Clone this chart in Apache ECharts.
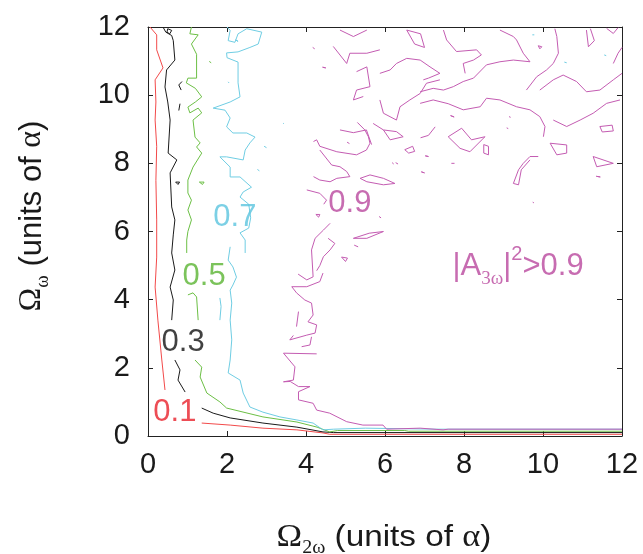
<!DOCTYPE html>
<html><head><meta charset="utf-8">
<script src="https://cdn.jsdelivr.net/npm/echarts@6/dist/echarts.min.js"></script>
<style>html,body{margin:0;padding:0;background:#fff}#c{width:643px;height:554px}</style>
</head><body><div id="c"></div>
<script>
// Axis range and ticks
var xTicks = [0, 2, 4, 6, 8, 10, 12];
var yTicks = [0, 2, 4, 6, 8, 10, 12];

// Contour level 0.1 (red) polylines [x, y]
var contour01 = [
  [[0.05,12],[0.22,11.77],[0.22,11.33],[0.38,10.8],[0.18,10.45],[0.2,9.8],[0.18,9.27],[0.22,8.5],[0.2,7.5],[0.22,6.34],[0.22,5.25],[0.18,4.37],[0.25,3.4],[0.35,2.23],[0.43,1.35]],
  [[1.36,0.38],[2.08,0.32],[2.91,0.23],[3.77,0.18],[4.43,0.09],[4.6,0.05],[12,0.05]]
];
// Contour level 0.3 (black)
var contour03 = [
  [[0.38,12],[0.45,11.85],[0.6,11.75],[0.64,11.6],[0.68,11.03],[0.47,10.74],[0.43,10.24],[0.5,9.8],[0.56,9.27],[0.51,8.3],[0.73,8.1],[0.56,7.72],[0.6,6.72],[0.68,6.34],[0.64,5.9],[0.6,5.37],[0.68,4.87],[0.56,4.37],[0.64,3.99],[0.6,3.4]],
  [[0.5,11.95],[0.6,11.9],[0.55,11.8],[0.48,11.85],[0.5,11.95]],
  [[0.86,10.4],[0.78,10.3],[0.84,10.15]],
  [[0.81,9.75],[0.78,9.55]],
  [[0.7,7.45],[0.8,7.45],[0.76,7.38],[0.7,7.45]],
  [[0.68,2.23],[0.81,1.94],[0.76,1.64],[0.94,1.29]],
  [[1.36,0.82],[1.65,0.67],[2.08,0.53],[2.91,0.38],[3.77,0.26],[4.43,0.12],[4.7,0.1],[12,0.1]]
];
// Contour level 0.5 (green)
var contour05 = [
  [[1.1,12],[1.06,11.8],[1.27,11.77],[1.1,11.5],[1.23,11.2],[1.23,10.5],[1.01,10.5],[0.97,10.36],[1.2,10.2],[1.36,9.95],[1.2,9.8],[1.01,9.65],[1.06,9.48],[1.27,9.62],[1.36,9.48],[1.14,9.27],[1.19,8.77],[1.32,8.6],[1.23,8.48],[1.36,8.3],[1.14,7.89],[1.01,7.51],[1.01,7.13],[1.1,6.92],[1.01,6.63],[1.1,6.34],[1.01,6.0],[0.98,5.75],[0.98,5.37]],
  [[1.55,10.99],[1.6,10.95]],
  [[1.3,7.45],[1.42,7.45],[1.38,7.38],[1.3,7.45]],
  [[1.01,4.14],[1.14,4.2],[1.23,4.08],[1.27,3.4]],
  [[1.19,2.23],[1.36,2.02],[1.32,1.73],[1.49,1.26],[1.82,1.0],[1.99,0.82],[2.91,0.56],[3.77,0.41],[4.28,0.26],[4.6,0.12],[4.8,0.16],[6.5,0.16],[6.6,0.14],[12,0.14]]
];
// Contour level 0.7 (cyan)
var contour07 = [
  [[2.0,12],[2.08,11.9],[2.03,11.6],[2.2,11.55],[2.28,11.8],[2.5,11.95],[2.88,11.85],[2.79,11.5],[2.58,11.4],[2.28,11.27],[1.99,11.24],[2.0,11.1],[2.28,10.97],[2.28,10.36],[2.33,9.95],[2.08,9.8],[1.65,9.62],[1.95,9.56],[2.08,9.33],[1.99,9.07],[2.15,8.89],[2.5,8.89],[2.71,8.77],[2.58,8.6],[2.46,8.39],[2.41,8.1],[1.99,8.19],[1.82,8.19],[2.08,7.89],[2.08,7.6],[2.33,7.6],[2.62,7.3],[2.41,7.16],[2.33,7.01],[2.55,6.8],[2.6,6.4],[2.55,6.1],[2.33,5.96],[2.46,5.75],[2.46,5.37]],
  [[2.22,11.62],[2.28,11.58],[2.25,11.55],[2.22,11.62]],
  [[2.03,10.39],[2.05,10.36]],
  [[3.42,9.18],[3.44,9.16]],
  [[2.94,8.5],[3.0,8.46]],
  [[2.77,7.82],[2.82,7.78]],
  [[1.82,4.05],[1.85,3.8],[1.82,3.4]],
  [[2.08,5.55],[2.03,5.16],[2.15,4.96],[2.24,4.66],[2.15,4.43],[2.08,4.28],[2.12,3.9],[2.08,3.4],[2.12,2.82],[2.08,2.23],[2.03,1.85],[2.33,1.64],[2.41,1.26],[2.58,0.85],[2.91,0.7],[3.34,0.56],[3.77,0.47],[4.18,0.38],[4.43,0.18],[4.7,0.2],[5.5,0.23],[7.3,0.2],[12,0.2]],
  [[9.73,11.77],[9.78,11.77]],
  [[10.54,10.97],[10.6,10.95]],
  [[11.55,11.18],[11.6,11.16]]
];
// Contour level 0.9 (magenta)
var contour09 = [
  [[4.61,6.24],[4.44,6.04],[4.23,5.8],[4.14,5.46],[4.18,4.67],[4.02,4.58],[3.8,4.75]],
  [[4.56,5.8],[4.73,5.65],[4.61,5.46],[4.44,5.26],[4.35,5.0],[4.27,4.85]],
  [[4.43,4.78],[4.35,4.53],[4.02,4.38],[3.64,4.38],[3.76,4.2],[3.97,3.99],[4.14,3.9],[4.18,3.55],[4.05,3.35],[4.27,3.26],[4.23,3.02],[4.02,2.96],[3.59,2.82],[3.68,2.95]],
  [[3.81,3.65],[3.76,3.21]],
  [[4.14,2.91],[4.1,2.67],[3.89,2.62]],
  [[3.43,2.43],[4.27,2.41]],
  [[3.43,2.43],[3.72,2.03],[3.68,1.64],[3.43,1.59],[3.6,1.6],[3.81,1.45],[4.1,1.45],[3.81,1.3],[3.81,1.06],[4.18,0.96],[4.27,0.76],[4.6,0.67],[5.03,0.42],[5.44,0.32],[5.95,0.32],[6.04,0.2],[6.89,0.23],[7.47,0.18],[7.6,0.2],[12,0.2]],
  [[4.02,7.22],[4.35,7.12],[4.52,6.92],[4.45,6.8]],
  [[4.19,7.61],[4.35,7.51],[4.61,7.46],[4.78,7.56],[5.11,7.61],[5.03,7.76],[4.86,7.9],[4.65,7.95],[4.35,8.39]],
  [[4.19,8.64],[4.27,8.69],[4.35,8.5],[4.78,8.34],[5.28,8.25],[5.53,8.39],[5.62,8.59],[5.58,8.78],[5.49,8.98],[5.3,9.2]],
  [[5.37,7.56],[5.62,7.66],[5.96,7.56],[6.25,7.41],[5.96,7.37],[5.54,7.46],[5.37,7.56]],
  [[5.7,9.17],[5.96,8.98],[6.13,8.69],[6.46,8.78],[6.29,8.93],[5.96,8.98]],
  [[5.2,5.8],[5.54,5.8],[5.96,6.0],[5.6,5.95],[5.2,5.8]],
  [[4.25,6.5],[4.35,6.5],[4.32,6.42],[4.25,6.5]],
  [[4.9,5.25],[5.05,5.22],[5.0,5.12],[4.9,5.25]],
  [[5.22,5.6],[5.32,5.55]],
  [[5.85,6.44],[5.9,6.4]],
  [[4.17,11.4],[4.22,11.36]],
  [[4.42,10.82],[4.5,10.8],[4.46,10.75],[4.42,10.82]],
  [[4.86,11.91],[5.2,11.72],[5.54,11.91]],
  [[4.69,11.43],[5.03,10.93],[5.11,11.23],[5.54,11.23],[5.87,11.33]],
  [[5.28,10.69],[5.54,10.83],[5.62,10.25],[5.28,10.15],[5.2,9.86],[5.45,9.96]],
  [[5.87,10.64],[6.13,10.74],[6.29,10.93],[6.55,11.08],[6.89,11.03],[7.14,10.83],[7.39,10.64],[7.1,10.5],[6.97,10.45]],
  [[5.87,9.86],[5.96,9.47],[6.29,9.27],[6.38,9.66],[6.63,9.86],[6.89,10.05],[7.05,10.35],[7.39,10.45]],
  [[6.55,11.91],[6.9,11.8],[7.0,11.4],[6.75,11.5],[6.55,11.91]],
  [[7.48,11.91],[7.56,11.62],[7.81,11.28],[8.32,11.33],[8.44,11.18],[8.24,11.03],[7.98,10.93],[8.03,10.64]],
  [[6.89,10.1],[7.22,10.2],[7.48,10.15],[7.73,10.25],[7.98,10.4],[8.24,10.5],[8.57,10.89],[8.91,10.98],[9.25,11.03],[9.67,10.98],[9.5,11.23],[9.33,11.62],[9.25,11.72],[8.91,11.91]],
  [[6.89,9.76],[7.22,9.86],[7.6,9.75],[7.98,9.57],[8.41,9.66],[8.57,9.91],[8.91,9.86],[9.33,9.66],[9.67,9.57],[9.92,9.37],[10.05,9.08],[10.01,8.78]],
  [[9.58,10.15],[9.84,10.54],[10.09,10.74],[10.26,10.93],[10.39,11.23],[10.35,11.72],[10.3,11.95]],
  [[9.92,10.15],[10.26,10.45],[10.51,10.59],[10.85,10.4],[11.1,10.1],[11.44,10.15],[11.78,10.45],[12,10.64]],
  [[10.26,9.27],[10.6,9.08],[10.94,9.27],[11.27,9.47],[11.61,9.76],[11.95,9.86]],
  [[11.44,9.08],[11.75,9.12],[11.78,8.95],[11.5,8.92],[11.44,9.08]],
  [[10.18,8.59],[10.6,8.54],[10.6,8.3],[10.35,8.25],[10.18,8.59]],
  [[9.88,8.2],[9.67,8.2],[9.5,8.0],[9.38,7.81],[9.25,7.41],[9.38,7.37],[9.45,7.81],[9.67,8.1]],
  [[11.27,8.2],[11.78,8.0],[11.36,7.9],[11.27,8.2]],
  [[7.6,8.78],[7.94,9.03],[8.19,8.69],[8.53,8.78],[8.15,8.34],[7.9,8.44],[7.6,8.78]],
  [[11.1,11.91],[11.15,11.42],[11.3,11.6],[11.2,11.95]],
  [[11.61,11.96],[11.78,11.81],[11.9,11.98]],
  [[11.78,10.93],[11.9,11.23],[12,11.4]],
  [[11.35,7.62],[11.45,7.6],[11.4,7.55],[11.35,7.62]],
  [[9.74,6.86],[9.77,6.84]],
  [[9.88,11.45],[9.97,11.42],[9.92,11.36],[9.88,11.45]],
  [[7.66,9.4],[7.75,9.36],[7.7,9.32],[7.66,9.4]],
  [[7.02,8.22],[7.1,8.2],[7.06,8.15],[7.02,8.22]],
  [[6.92,7.75],[7.0,7.72],[6.96,7.68],[6.92,7.75]],
  [[7.68,8.0],[7.76,8.0]],
  [[8.5,8.55],[8.62,8.5],[8.62,8.25],[8.5,8.3],[8.5,8.55]],
  [[9.14,9.37],[9.18,9.35]],
  [[9.08,9.04],[9.12,9.02]],
  [[6.9,8.75],[7.1,8.82],[7.27,9.07]],
  [[6.5,8.4],[6.7,8.5],[6.75,8.35],[6.6,8.3],[6.5,8.4]],
  [[6.27,8.02],[6.33,7.98]],
  [[6.18,8.02],[6.22,7.98]],
  [[5.04,8.62],[5.1,8.58]],
  [[4.86,8.98],[5.2,8.9],[5.53,8.98],[5.66,8.55]]
];

// Level label texts and positions (data units)
var levelLabels = [
  {text: '0.1', x: 0.68, y: 0.70, color: '#e8202a'},
  {text: '0.3', x: 0.89, y: 2.73, color: '#111111'},
  {text: '0.5', x: 1.42, y: 4.69, color: '#5ab432'},
  {text: '0.7', x: 2.2, y: 6.40, color: '#5bc4df'},
  {text: '0.9', x: 5.11, y: 6.81, color: '#b9479e'}
];
var noteLabel = {x: 9.37, y: 4.96, color: '#b9479e'};

var levelColors = {c01: '#f24a4a', c03: '#1a1a1a', c05: '#6cbf45', c07: '#6fcde3', c09: '#c45cb2'};

var series = [];
function addLevel(lines, color) {
  lines.forEach(function (pl) {
    series.push({
      type: 'line', data: pl, showSymbol: false, symbol: 'none', silent: true,
      lineStyle: {color: color, width: 1}, animation: false, z: 3
    });
  });
}
addLevel(contour01, levelColors.c01);
addLevel(contour03, levelColors.c03);
addLevel(contour05, levelColors.c05);
addLevel(contour07, levelColors.c07);
addLevel(contour09, levelColors.c09);

series.push({
  type: 'scatter', symbolSize: 1, itemStyle: {color: 'transparent'}, silent: true, z: 5,
  data: levelLabels.map(function (l) {
    return {value: [l.x, l.y], label: {show: true, position: 'inside', formatter: l.text,
      color: l.color, fontSize: 31, fontFamily: 'Liberation Sans'}};
  })
});
series.push({
  type: 'scatter', symbolSize: 1, itemStyle: {color: 'transparent'}, silent: true, z: 5,
  data: [{value: [noteLabel.x, noteLabel.y], label: {show: true, position: 'inside',
    formatter: '{m||A}{sub|3ω}{m||}{sup|2}{m|>0.9}',
    rich: {
      m: {fontSize: 31, fontFamily: 'Liberation Sans', color: noteLabel.color, lineHeight: 44, verticalAlign: 'middle'},
      sub: {fontSize: 19, fontFamily: 'Liberation Serif', color: noteLabel.color, lineHeight: 44, verticalAlign: 'bottom'},
      sup: {fontSize: 20, fontFamily: 'Liberation Sans', color: noteLabel.color, lineHeight: 44, verticalAlign: 'top'}
    }}}]
});

var axisFont = {fontSize: 29, fontFamily: 'Liberation Sans', color: '#1a1a1a'};
var chart = echarts.init(document.getElementById('c'), null, {renderer: 'canvas'});
chart.setOption({
  animation: false,
  backgroundColor: '#ffffff',
  grid: {left: 148, right: 21, top: 27, bottom: 118, containLabel: false},
  xAxis: [
    {type: 'value', min: xTicks[0], max: xTicks[xTicks.length - 1], interval: 2, position: 'bottom',
     axisLine: {show: true, lineStyle: {color: '#222', width: 1}},
     axisTick: {show: true, inside: true, length: 5, lineStyle: {color: '#222'}},
     axisLabel: Object.assign({margin: 14}, axisFont), splitLine: {show: false}},
    {type: 'value', min: xTicks[0], max: xTicks[xTicks.length - 1], interval: 2, position: 'top',
     axisLine: {show: true, onZero: false, lineStyle: {color: '#222', width: 1}},
     axisTick: {show: true, inside: true, length: 5, lineStyle: {color: '#222'}},
     axisLabel: {show: false}, splitLine: {show: false}}
  ],
  yAxis: [
    {type: 'value', min: yTicks[0], max: yTicks[yTicks.length - 1], interval: 2, position: 'left',
     axisLine: {show: true, lineStyle: {color: '#222', width: 1}},
     axisTick: {show: true, inside: true, length: 5, lineStyle: {color: '#222'}},
     axisLabel: Object.assign({margin: 18}, axisFont), splitLine: {show: false}},
    {type: 'value', min: yTicks[0], max: yTicks[yTicks.length - 1], interval: 2, position: 'right',
     axisLine: {show: true, onZero: false, lineStyle: {color: '#222', width: 1}},
     axisTick: {show: true, inside: true, length: 5, lineStyle: {color: '#222'}},
     axisLabel: {show: false}, splitLine: {show: false}}
  ],
  graphic: [
    {type: 'text', x: 384, y: 538, scaleX: 1.11,
     style: {text: '{o|Ω}{s|2ω}{t| (units of }{o|α}{t|)}', align: 'center', verticalAlign: 'middle',
       rich: {
         o: {fontSize: 31, fontFamily: 'Liberation Serif', fill: '#1a1a1a', lineHeight: 38, verticalAlign: 'middle'},
         s: {fontSize: 18, fontFamily: 'Liberation Serif', fill: '#1a1a1a', lineHeight: 38, verticalAlign: 'bottom'},
         t: {fontSize: 30, fontFamily: 'Liberation Sans', fill: '#1a1a1a', lineHeight: 38, verticalAlign: 'middle'}
       }}},
    {type: 'text', x: 32, y: 216, rotation: Math.PI / 2, scaleX: 1.0,
     style: {text: '{o|Ω}{s|ω}{t| (units of }{o|α}{t|)}', align: 'center', verticalAlign: 'middle',
       rich: {
         o: {fontSize: 32, fontFamily: 'Liberation Serif', fill: '#1a1a1a', lineHeight: 42, verticalAlign: 'middle'},
         s: {fontSize: 19, fontFamily: 'Liberation Serif', fill: '#1a1a1a', lineHeight: 42, verticalAlign: 'bottom'},
         t: {fontSize: 31, fontFamily: 'Liberation Sans', fill: '#1a1a1a', lineHeight: 42, verticalAlign: 'middle'}
       }}}
  ],
  series: series
});
</script>
</body></html>
